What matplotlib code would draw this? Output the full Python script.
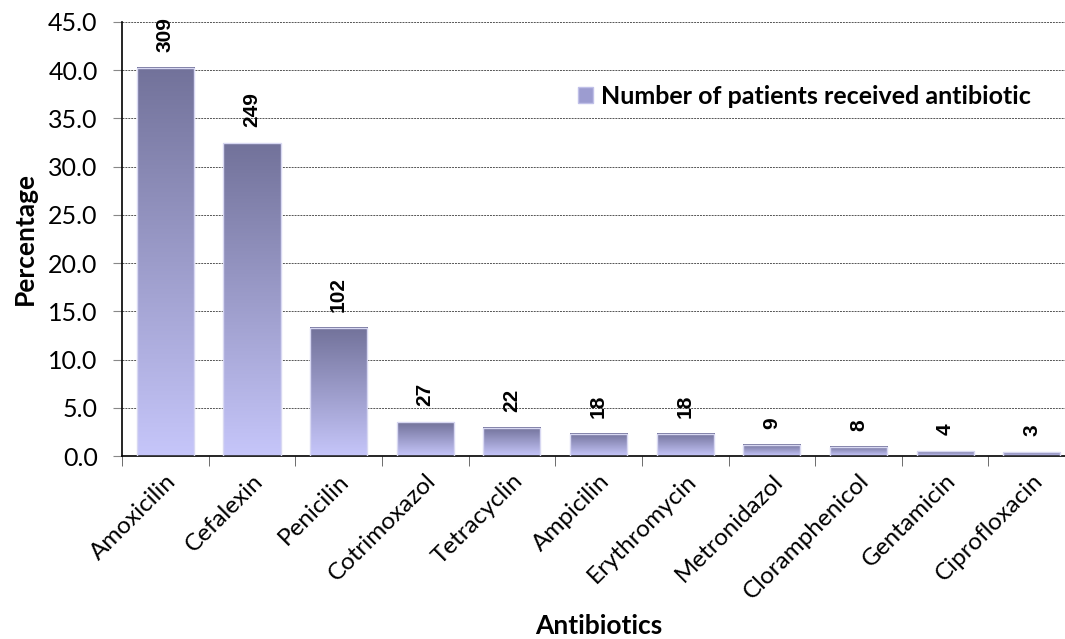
import numpy as np
import matplotlib.pyplot as plt
from matplotlib.colors import LinearSegmentedColormap
from matplotlib.patches import Patch

antibioticos = ['Amoxicilin', 'Cefalexin', 'Penicilin', 'Cotrimoxazol', 'Tetracyclin',
                'Ampicilin', 'Erythromycin', 'Metronidazol', 'Cloramphenicol',
                'Gentamicin', 'Ciprofloxacin']
porcentaje = [40.2, 32.4, 13.3, 3.5, 2.9, 2.3, 2.3, 1.2, 1.0, 0.5, 0.4]
pacientes = [309, 249, 102, 27, 22, 18, 18, 9, 8, 4, 3]

plt.rcParams['font.family'] = ['Lato', 'DejaVu Sans']

fig = plt.figure(figsize=(10.65, 6.39), dpi=100)
ax = fig.add_axes([0.1145, 0.286, 0.895, 0.68])

# degradado de cada barra: oscuro arriba, claro abajo
cmap = LinearSegmentedColormap.from_list('barra', ['#c6c6fa', '#72729a'])
grad = np.linspace(0, 1, 256).reshape(-1, 1)
ancho = 0.66
x = np.arange(len(antibioticos))

barras = ax.bar(x, porcentaje, width=ancho, color='none', edgecolor='#d8d8f2',
                linewidth=1.0, zorder=3)
for xi, h in zip(x, porcentaje):
    ax.imshow(grad, cmap=cmap, origin='lower', aspect='auto',
              extent=[xi - ancho / 2, xi + ancho / 2, 0, h], zorder=2)

for xi, h, n in zip(x, porcentaje, pacientes):
    ax.annotate(str(n), (xi, h), xytext=(0, 11.5), textcoords='offset points',
                rotation=90, ha='center', va='bottom', fontsize=15,
                fontweight='bold', family='Liberation Sans', zorder=4,
                annotation_clip=False)

ax.set_xlim(-0.5, len(antibioticos) - 0.5)
ax.set_ylim(0, 45)
ax.set_yticks(np.arange(0, 46, 5))
ax.set_yticklabels([f'{v:.1f}' for v in np.arange(0, 46, 5)], fontsize=18)
ax.set_xticks(x)
ax.set_xticklabels(antibioticos, rotation=45, ha='right', rotation_mode='anchor', fontsize=17.5)
ax.tick_params(axis='x', length=0, pad=10)
ax.set_xticks(np.arange(-0.5, len(antibioticos), 1), minor=True)
ax.tick_params(axis='x', which='minor', length=7, color='#555555')
ax.tick_params(axis='y', length=6.5, color='#888888', pad=11)

ax.grid(axis='y', linestyle=(0, (2, 1)), color='#555555', linewidth=0.7, zorder=0)
ax.set_axisbelow(True)
for lado in ['top', 'right']:
    ax.spines[lado].set_visible(False)
ax.spines['left'].set_linewidth(1.2)
ax.spines['bottom'].set_linewidth(1.2)

ax.set_xlabel('Antibiotics', fontsize=19, fontweight='bold', labelpad=8)
ax.set_ylabel('Percentage', fontsize=19, fontweight='bold', labelpad=8)

leg = ax.legend([Patch(facecolor='#9c9cd0', edgecolor='#c0c0e8')],
                ['Number of patients received antibiotic'],
                loc='center left', bbox_to_anchor=(0.455, 0.828), frameon=False,
                prop={'weight': 'bold', 'size': 18}, handlelength=0.6,
                handleheight=0.6, handletextpad=0.3)

fig.savefig('out.png', dpi=100)
